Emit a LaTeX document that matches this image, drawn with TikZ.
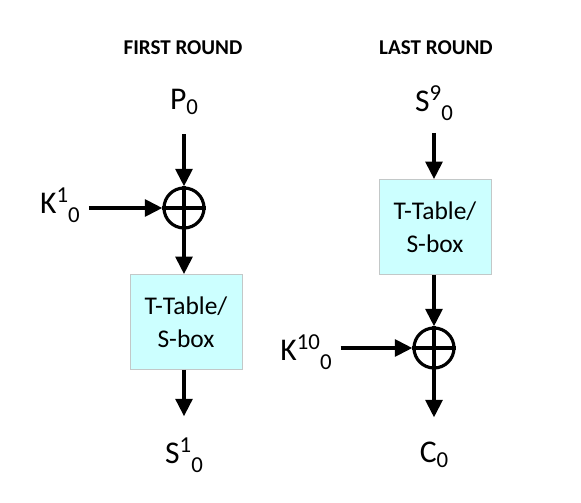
\documentclass[tikz,border=0pt]{standalone}
\usepackage{fontspec}
\setmainfont{Carlito}
\usetikzlibrary{arrows.meta}
\definecolor{boxfill}{RGB}{204,255,255}
\definecolor{boxline}{RGB}{195,200,200}
\newcommand{\supsub}[3]{#1\raisebox{0.75ex}{\fontsize{13}{14}\selectfont #2}\raisebox{-0.55ex}{\fontsize{13}{14}\selectfont #3}}
\newcommand{\subonly}[2]{#1\raisebox{-0.3ex}{\fontsize{13}{14}\selectfont #2}}
\begin{document}
\begin{tikzpicture}[x=0.02cm, y=-0.02cm,
    arr/.style={line width=2.2pt, -{Triangle[length=10pt, width=9.5pt]}},
    xorc/.style={draw, circle, line width=1.8pt, minimum size=0.8cm, inner sep=0pt},
    tbox/.style={draw=boxline, fill=boxfill, minimum width=2.24cm, minimum height=1.9cm, align=center, font=\fontsize{14.5}{19}\selectfont},
    lbl/.style={inner sep=0pt, font=\fontsize{18}{20}\selectfont},
    ttl/.style={font=\fontsize{12}{14}\selectfont\bfseries}]
  \useasboundingbox (0,0) rectangle (581,503);
  % first round
  \node[ttl] (t1) at (183,48) {FIRST ROUND};
  \node[lbl] (p0) at (184,102) {\subonly{P}{0}};
  \node[xorc] (x1) at (184,208) {};
  \draw[line width=1.8pt] (x1.north) -- (x1.south) (x1.west) -- (x1.east);
  \node[lbl] (k1) at (60,205) {\supsub{K}{1}{0}};
  \node[tbox] (b1) at (186,322) {T-Table/\\S-box};
  \node[lbl] (s1) at (184,455) {\supsub{S}{1}{0}};
  \draw[arr, shorten <=11pt] (p0.south -| x1) -- (x1.north);
  \draw[arr, shorten <=5pt] (k1.east |- x1) -- (x1.west);
  \draw[arr] (x1.south) -- (x1.south |- b1.north);
  \draw[arr, shorten >=12pt] (x1 |- b1.south) -- (x1 |- s1.north);
  % last round
  \node[ttl] (t2) at (436,48) {LAST ROUND};
  \node[lbl] (s9) at (434,103) {\supsub{S}{9}{0}};
  \node[tbox] (b2) at (435,227) {T-Table/\\S-box};
  \node[xorc] (x2) at (434,348) {};
  \draw[line width=1.8pt] (x2.north) -- (x2.south) (x2.west) -- (x2.east);
  \node[lbl] (k10) at (306,352) {\supsub{K}{10}{0}};
  \node[lbl] (c0) at (434,455) {\subonly{C}{0}};
  \draw[arr, shorten <=7pt] (s9.south -| x2) -- (x2 |- b2.north);
  \draw[arr] (x2 |- b2.south) -- (x2.north);
  \draw[arr, shorten <=5pt] (k10.east |- x2) -- (x2.west);
  \draw[arr, shorten >=14pt] (x2.south) -- (c0.north);
\end{tikzpicture}
\end{document}
